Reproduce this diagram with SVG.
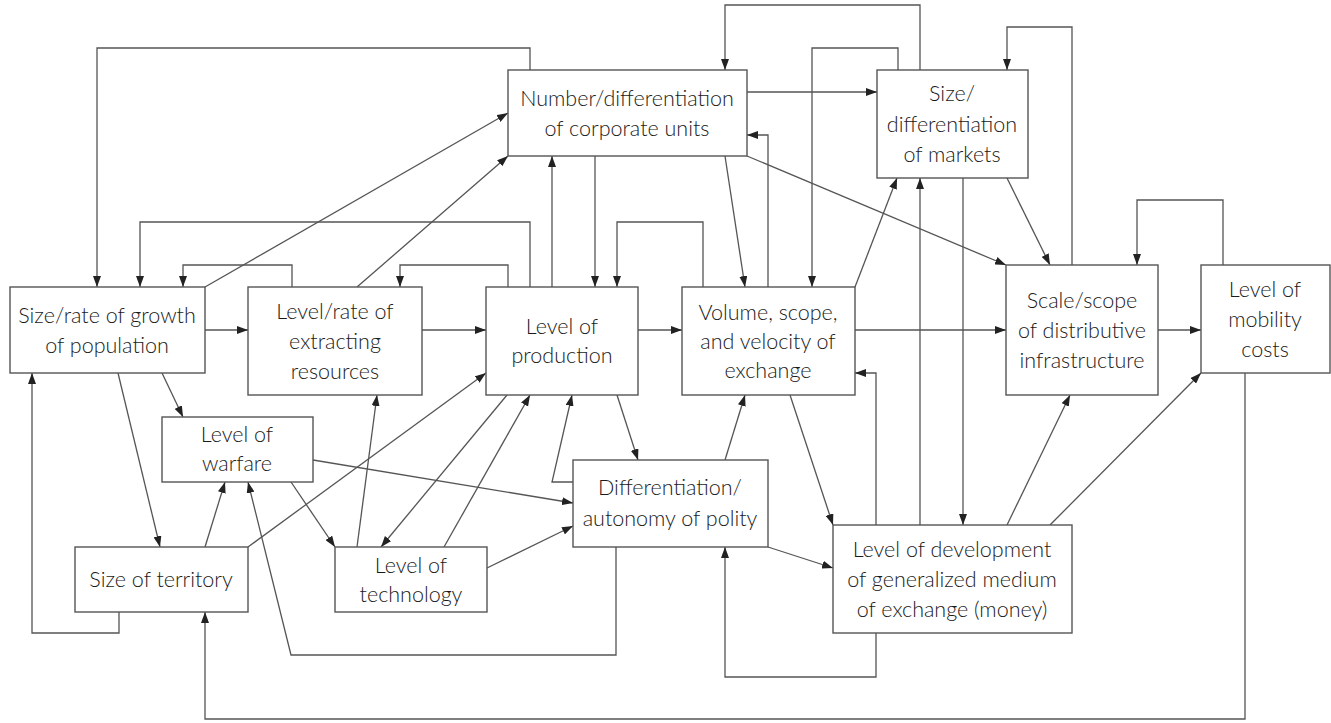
<svg xmlns="http://www.w3.org/2000/svg" width="1331" height="723" viewBox="0 0 1331 723">
  <style>
    .box rect { fill: #ffffff; stroke: #555555; stroke-width: 1.4; }
    .box text { font-family: Lato, "Noto Sans", sans-serif; font-size: 21.5px; font-weight: 300; fill: #1a1a1a; text-anchor: middle; }
    #connectors path { fill: none; stroke: #555555; stroke-width: 1.3; marker-end: url(#arrow); }
  </style>
  <defs>
    <marker id="arrow" viewBox="0 0 11 8" refX="11" refY="4" markerWidth="11" markerHeight="8" markerUnits="userSpaceOnUse" orient="auto">
      <path d="M0,0 L11,4 L0,8 z" fill="#222222"/>
    </marker>
  </defs>
  <rect width="1331" height="723" fill="#ffffff"/>

  <g id="connectors">
    <!-- horizontal chain -->
    <path d="M205,330 H248"/>
    <path d="M422,330 H486"/>
    <path d="M638,330 H682"/>
    <path d="M855,330 H1006"/>
    <path d="M1158,330 H1201"/>
    <!-- loops above the middle row -->
    <path d="M530,70 V48 H97 V287"/>
    <path d="M530,287 V222 H140 V287"/>
    <path d="M292,287 V265 H183 V287"/>
    <path d="M508,287 V265 H400 V287"/>
    <path d="M703,287 V222 H617 V287"/>
    <path d="M768,287 V135 H747"/>
    <path d="M898,70 V48 H812 V287"/>
    <path d="M920,70 V5 H725 V70"/>
    <path d="M1072,265 V27 H1007 V70"/>
    <path d="M1223,265 V200 H1137 V265"/>
    <!-- links to corporate units -->
    <path d="M205,287 L508,113"/>
    <path d="M357,287 L508,156"/>
    <path d="M552,287 V156"/>
    <path d="M595,156 V287"/>
    <path d="M725,156 L745,287"/>
    <path d="M747,92 H877"/>
    <path d="M747,156 L1006,265"/>
    <!-- markets and infrastructure -->
    <path d="M855,287 L897,178"/>
    <path d="M1007,178 L1050,265"/>
    <!-- population, warfare, territory -->
    <path d="M162,373 L183,417"/>
    <path d="M118,373 L160,547"/>
    <path d="M205,547 L225,482"/>
    <path d="M119,612 V633 H32 V373"/>
    <path d="M248,547 L486,373"/>
    <path d="M291,482 L335,547"/>
    <path d="M313,460 L573,503"/>
    <!-- technology -->
    <path d="M357,547 L377,395"/>
    <path d="M507,395 L381,547"/>
    <path d="M444,547 L530,395"/>
    <path d="M487,568 L573,526"/>
    <!-- polity -->
    <path d="M573,482 H552 L572,395"/>
    <path d="M617,395 L638,460"/>
    <path d="M725,460 L745,395"/>
    <path d="M768,547 L833,568"/>
    <path d="M616,547 V655 H291 L248,482"/>
    <!-- money -->
    <path d="M790,395 L833,525"/>
    <path d="M876,633 V677 H725 V547"/>
    <path d="M876,525 V373 H855"/>
    <path d="M920,525 V178"/>
    <path d="M963,178 V525"/>
    <path d="M1007,525 L1070,395"/>
    <path d="M1050,525 L1201,373"/>
    <!-- mobility costs back to territory -->
    <path d="M1245,373 V719 H205 V612"/>
  </g>

  <g id="population" class="box">
    <rect x="10" y="287" width="195" height="86"/>
    <text x="107" y="323">Size/rate of growth</text>
    <text x="107" y="353">of population</text>
  </g>
  <g id="extracting" class="box">
    <rect x="248" y="287" width="174" height="108"/>
    <text x="335" y="319">Level/rate of</text>
    <text x="335" y="349">extracting</text>
    <text x="335" y="379">resources</text>
  </g>
  <g id="warfare" class="box">
    <rect x="162" y="417" width="151" height="65"/>
    <text x="237" y="442">Level of</text>
    <text x="237" y="471">warfare</text>
  </g>
  <g id="corporate" class="box">
    <rect x="508" y="70" width="239" height="86"/>
    <text x="627" y="106">Number/differentiation</text>
    <text x="627" y="136">of corporate units</text>
  </g>
  <g id="markets" class="box">
    <rect x="877" y="70" width="151" height="108"/>
    <text x="952" y="101">Size/</text>
    <text x="952" y="132">differentiation</text>
    <text x="952" y="162">of markets</text>
  </g>
  <g id="production" class="box">
    <rect x="486" y="287" width="152" height="108"/>
    <text x="562" y="334">Level of</text>
    <text x="562" y="363">production</text>
  </g>
  <g id="exchange" class="box">
    <rect x="682" y="287" width="173" height="108"/>
    <text x="768" y="320">Volume, scope,</text>
    <text x="768" y="349">and velocity of</text>
    <text x="768" y="378">exchange</text>
  </g>
  <g id="infrastructure" class="box">
    <rect x="1006" y="265" width="152" height="130"/>
    <text x="1082" y="308">Scale/scope</text>
    <text x="1082" y="338">of distributive</text>
    <text x="1082" y="368">infrastructure</text>
  </g>
  <g id="mobility" class="box">
    <rect x="1201" y="265" width="129" height="108"/>
    <text x="1265" y="297">Level of</text>
    <text x="1265" y="327">mobility</text>
    <text x="1265" y="357">costs</text>
  </g>
  <g id="polity" class="box">
    <rect x="573" y="460" width="195" height="87"/>
    <text x="670" y="495">Differentiation/</text>
    <text x="670" y="526">autonomy of polity</text>
  </g>
  <g id="territory" class="box">
    <rect x="75" y="547" width="173" height="65"/>
    <text x="161" y="587">Size of territory</text>
  </g>
  <g id="technology" class="box">
    <rect x="335" y="547" width="152" height="65"/>
    <text x="411" y="573">Level of</text>
    <text x="411" y="602">technology</text>
  </g>
  <g id="money" class="box">
    <rect x="833" y="525" width="239" height="108"/>
    <text x="952" y="557">Level of development</text>
    <text x="952" y="587">of generalized medium</text>
    <text x="952" y="617">of exchange (money)</text>
  </g>
</svg>
